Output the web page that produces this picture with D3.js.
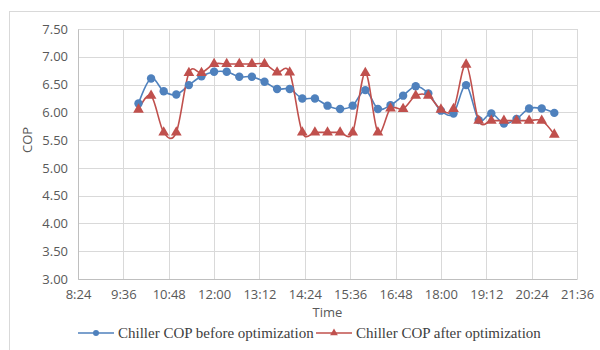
<!DOCTYPE html>
<html>
<head>
<meta charset="utf-8">
<script src="https://cdn.jsdelivr.net/npm/d3@7"></script>
<style>
  body { margin: 0; background: #fff; }
  .axis text { font-family: "Open Sans", sans-serif; font-size: 13px; fill: #595959; }
</style>
</head>
<body>
<div id="chart-area"></div>
<script>
/* data */
const times = ["10:00", "10:20", "10:40", "11:00", "11:20", "11:40", "12:00", "12:20", "12:40",
    "13:00", "13:20", "13:40", "14:00", "14:20", "14:40", "15:00", "15:20", "15:40", "16:00",
    "16:20", "16:40", "17:00", "17:20", "17:40", "18:00", "18:20", "18:40", "19:00", "19:20",
    "19:40", "20:00", "20:20", "20:40", "21:00"];

const copBefore = [6.16, 6.61, 6.38, 6.32, 6.49, 6.65, 6.73, 6.73, 6.64, 6.64, 6.55, 6.42, 6.42,
    6.25, 6.25, 6.12, 6.06, 6.12, 6.40, 6.06, 6.13, 6.30, 6.47, 6.34, 6.03, 5.98, 6.49, 5.86,
    5.98, 5.80, 5.88, 6.07, 6.07, 5.99];

const copAfter = [6.05, 6.30, 5.64, 5.64, 6.71, 6.71, 6.87, 6.87, 6.87, 6.87, 6.87, 6.72, 6.72,
    5.64, 5.64, 5.64, 5.64, 5.64, 6.71, 5.64, 6.07, 6.06, 6.30, 6.30, 6.05, 6.06, 6.86, 5.85,
    5.85, 5.85, 5.85, 5.85, 5.85, 5.60];

const xTickLabels = ["8:24", "9:36", "10:48", "12:00", "13:12", "14:24", "15:36", "16:48",
    "18:00", "19:12", "20:24", "21:36"];
const yTicks = [3.0, 3.5, 4.0, 4.5, 5.0, 5.5, 6.0, 6.5, 7.0, 7.5];

const seriesNames = ["Chiller COP before optimization", "Chiller COP after optimization"];

/* graphical constants */
const margin = { left: 78, right: 23, top: 29, bottom: 71 };
const width = 600 - margin.left - margin.right;
const height = 350 - margin.top - margin.bottom;

const BLUE = "#4F81BD";
const RED = "#C0504D";
const GRID = "#d9d9d9";

const parseTime = d3.timeParse("%H:%M");

const svg = d3.select("#chart-area")
    .append("svg")
    .attr("width", 600)
    .attr("height", 350);

// outer chart border (only top and left are visible)
svg.append("rect")
    .attr("x", 9.5)
    .attr("y", 11.5)
    .attr("width", 620)
    .attr("height", 360)
    .attr("fill", "none")
    .attr("stroke", GRID);

const g = svg.append("g")
    .attr("transform", "translate(" + margin.left + ", " + margin.top + ")");

// X Scale
const x = d3.scaleTime()
    .domain([parseTime(xTickLabels[0]), parseTime(xTickLabels[xTickLabels.length - 1])])
    .range([0, width]);

// Y Scale
const y = d3.scaleLinear()
    .domain([3, 7.5])
    .range([height, 0]);

// grid lines
g.append("g")
    .selectAll("line.h")
    .data(yTicks)
    .enter().append("line")
    .attr("x1", 0).attr("x2", width)
    .attr("y1", d => Math.round(y(d)) + 0.5)
    .attr("y2", d => Math.round(y(d)) + 0.5)
    .attr("stroke", GRID);

g.append("g")
    .selectAll("line.v")
    .data(xTickLabels)
    .enter().append("line")
    .attr("y1", 0).attr("y2", height)
    .attr("x1", d => Math.round(x(parseTime(d))) + 0.5)
    .attr("x2", d => Math.round(x(parseTime(d))) + 0.5)
    .attr("stroke", GRID);

// X Axis
const xAxisGroup = g.append("g")
    .attr("class", "axis")
    .attr("transform", "translate(0," + height + ")")
    .call(d3.axisBottom(x)
        .tickValues(xTickLabels.map(parseTime))
        .tickFormat(d3.timeFormat("%-H:%M"))
        .tickSize(0)
        .tickPadding(11));
xAxisGroup.select(".domain").attr("stroke", "#bfbfbf");

// Y Axis
const yAxisGroup = g.append("g")
    .attr("class", "axis")
    .call(d3.axisLeft(y)
        .tickValues(yTicks)
        .tickFormat(d3.format(".2f"))
        .tickSize(0)
        .tickPadding(10));
yAxisGroup.select(".domain").attr("stroke", "#bfbfbf");

// axis titles
g.append("text")
    .attr("x", width / 2)
    .attr("y", height + 38)
    .attr("text-anchor", "middle")
    .attr("font-family", "Open Sans, sans-serif")
    .attr("font-size", "13px")
    .attr("fill", "#595959")
    .text("Time");

g.append("text")
    .attr("transform", "translate(-46," + (height / 2 - 14) + ") rotate(-90)")
    .attr("text-anchor", "middle")
    .attr("font-family", "Open Sans, sans-serif")
    .attr("font-size", "13px")
    .attr("fill", "#595959")
    .text("COP");

// lines
const line = d3.line()
    .x(d => x(parseTime(d.t)))
    .y(d => y(d.v))
    .curve(d3.curveCardinal.tension(0));

const before = times.map((t, i) => ({ t: t, v: copBefore[i] }));
const after = times.map((t, i) => ({ t: t, v: copAfter[i] }));

g.append("path")
    .datum(before)
    .attr("fill", "none")
    .attr("stroke", BLUE)
    .attr("stroke-width", 1.6)
    .attr("d", line);

g.append("path")
    .datum(after)
    .attr("fill", "none")
    .attr("stroke", RED)
    .attr("stroke-width", 1.6)
    .attr("d", line);

g.selectAll("circle.before")
    .data(before)
    .enter().append("circle")
    .attr("cx", d => x(parseTime(d.t)))
    .attr("cy", d => y(d.v))
    .attr("r", 4.2)
    .attr("fill", BLUE);

const tri = d3.symbol().type(d3.symbolTriangle).size(50);

g.selectAll("path.after")
    .data(after)
    .enter().append("path")
    .attr("d", tri)
    .attr("transform", d => "translate(" + x(parseTime(d.t)) + "," + y(d.v) + ")")
    .attr("fill", RED);

// legend
const legend = svg.append("g")
    .attr("transform", "translate(0,333)");

const legendItems = [
    { name: seriesNames[0], color: BLUE, x0: 78, type: "circle" },
    { name: seriesNames[1], color: RED, x0: 316, type: "triangle" }
];

legendItems.forEach(item => {
    legend.append("line")
        .attr("x1", item.x0).attr("x2", item.x0 + 36)
        .attr("y1", 0).attr("y2", 0)
        .attr("stroke", item.color)
        .attr("stroke-width", 1.6);
    if (item.type === "circle") {
        legend.append("circle")
            .attr("cx", item.x0 + 18).attr("cy", 0).attr("r", 3)
            .attr("fill", item.color);
    } else {
        legend.append("path")
            .attr("d", d3.symbol().type(d3.symbolTriangle).size(26))
            .attr("transform", "translate(" + (item.x0 + 18) + ",0)")
            .attr("fill", item.color);
    }
    legend.append("text")
        .attr("x", item.x0 + 40)
        .attr("y", 5)
        .attr("font-family", "Liberation Serif, Times New Roman, serif")
        .attr("font-size", "15px")
        .attr("fill", "#404040")
        .text(item.name);
});
</script>
</body>
</html>
